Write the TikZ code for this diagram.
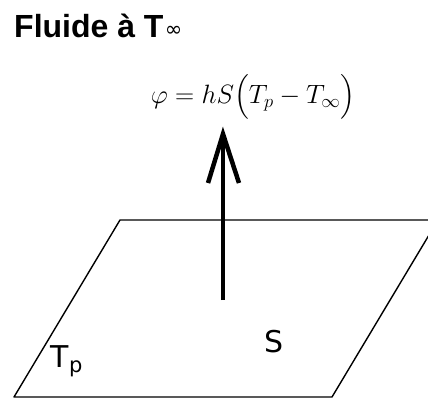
\RequirePackage{fix-cm}
\documentclass[tikz,border=0pt]{standalone}
\usepackage{amsmath}
\usepackage{fontspec}
\newfontfamily\titlefont{Liberation Sans}
\newfontfamily\labfont{DejaVu Sans}
\begin{document}
\begin{tikzpicture}[x=1pt,y=-1pt,
  edge/.style={line width=1.4pt, line join=round},
  heavy/.style={line width=4.5pt},
  lab/.style={inner sep=0pt, font=\labfont\fontsize{30}{32}\selectfont}]
\useasboundingbox (0,0) rectangle (428,399);
% plane
\coordinate (bl) at (14,397);
\coordinate (tl) at (120,220);
\coordinate (tr) at (438,220);
\coordinate (br) at (332,397);
\draw[edge] (bl) -- (tl) -- (tr) -- (br) -- cycle;
% arrow
\coordinate (a0) at (223,300);
\coordinate (a1) at (223,134);
\coordinate (wl) at (208,183);
\coordinate (wr) at (239,183);
\draw[heavy] (a0) -- (a1);
\draw[heavy, line join=miter, miter limit=10] (wl) -- (a1) -- (wr);
% title
\node[inner sep=0pt, anchor=base west, font=\titlefont\bfseries\fontsize{32}{34}\selectfont] (title) at (14,37) {Fluide à T};
\node[inner sep=0pt, anchor=base west, font=\labfont\fontsize{21}{23}\selectfont] (inf) at ([yshift=1pt]title.base east) {\hspace{1pt}∞};
% equation
\node[inner sep=0pt, font=\fontsize{26.5}{29}\selectfont] (eq) at (253,97) {$\varphi = hS\Bigl(T_p - T_\infty\Bigr)$};
% labels
\node[lab, anchor=base west] (tp) at (50,367) {T};
\node[inner sep=0pt, anchor=base west, font=\labfont\fontsize{21}{23}\selectfont] (p) at (69,372) {p};
\node[lab, anchor=base west] (s) at (264,352) {S};
\end{tikzpicture}
\end{document}
